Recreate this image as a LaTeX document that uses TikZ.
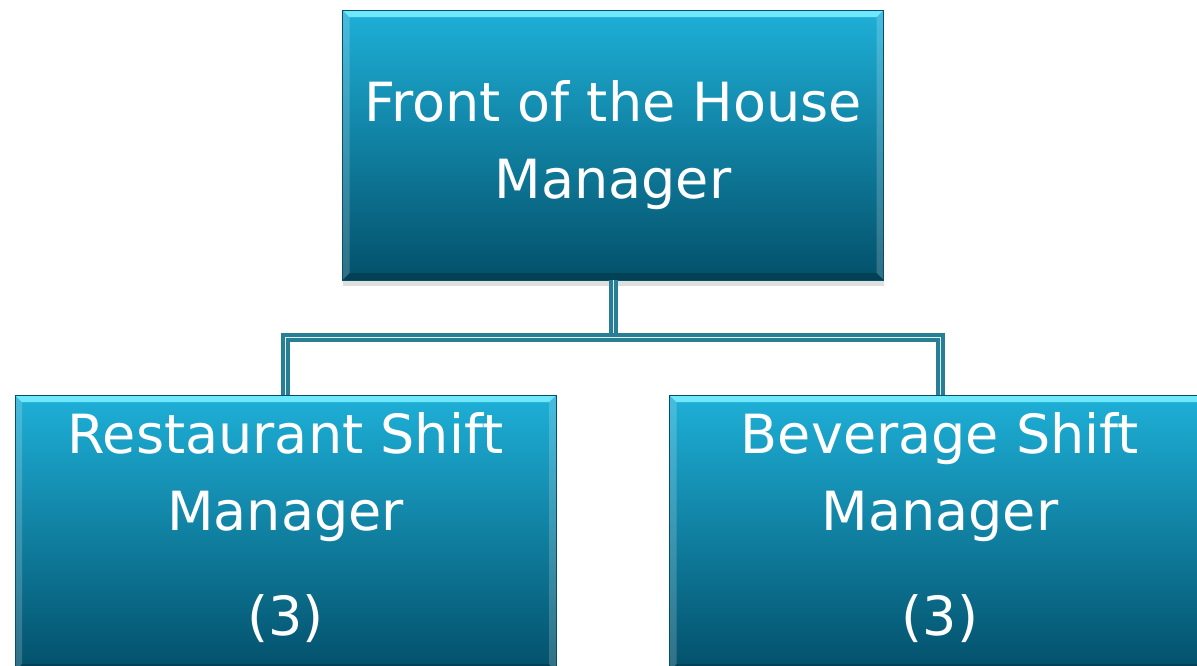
\documentclass[tikz,border=0pt]{standalone}
\usepackage{fontspec}
\setmainfont{DejaVu Sans}
\usetikzlibrary{shadows}
\definecolor{boxtop}{RGB}{30,176,216}
\definecolor{boxbot}{RGB}{3,80,106}
\definecolor{bevlight}{RGB}{112,232,252}
\definecolor{conn}{RGB}{40,126,148}
\definecolor{connlight}{RGB}{215,238,244}
\tikzset{
  orgbox/.style={rectangle, minimum width=541pt, inner sep=0pt,
    top color=boxtop, bottom color=boxbot, draw=boxbot, line width=0.6pt,
    drop shadow={opacity=0.25, shadow xshift=0pt, shadow yshift=-6pt},
    path picture={
      \fill[bevlight] (path picture bounding box.north west) -- (path picture bounding box.north east)
        -- ([xshift=-7pt,yshift=-7pt]path picture bounding box.north east)
        -- ([xshift=7pt,yshift=-7pt]path picture bounding box.north west) -- cycle;
      \fill[white,opacity=0.18] (path picture bounding box.north west)
        -- ([xshift=7pt,yshift=-7pt]path picture bounding box.north west)
        -- ([xshift=7pt,yshift=7pt]path picture bounding box.south west)
        -- (path picture bounding box.south west) -- cycle;
      \fill[white,opacity=0.18] (path picture bounding box.north east)
        -- ([xshift=-7pt,yshift=-7pt]path picture bounding box.north east)
        -- ([xshift=-7pt,yshift=7pt]path picture bounding box.south east)
        -- (path picture bounding box.south east) -- cycle;
      \fill[black,opacity=0.2] (path picture bounding box.south west)
        -- ([xshift=7pt,yshift=7pt]path picture bounding box.south west)
        -- ([xshift=-7pt,yshift=7pt]path picture bounding box.south east)
        -- (path picture bounding box.south east) -- cycle;
    }},
  lbl/.style={text=white, align=center, inner sep=0pt, font=\fontsize{54}{77}\selectfont},
  connector/.style={draw=conn, line width=4pt, double=connlight, double distance=1pt}
}
\begin{document}
\begin{tikzpicture}[x=1pt,y=-1pt]
\useasboundingbox (0,0) rectangle (1197,665);
\clip (0,0) rectangle (1197,665);
\fill[white] (0,0) rectangle (1197,665);
\node[orgbox, minimum height=270pt, lbl] (foh) at (613,145) {Front of the House\\Manager};
\node[orgbox, minimum height=276pt] (rsm) at (285.5,533) {};
\node[orgbox, minimum height=276pt] (bsm) at (940,533) {};
\node[lbl, anchor=north] (rsmt) at ([yshift=-18pt]rsm.north) {Restaurant Shift\\Manager\\[28pt](3)};
\node[lbl, anchor=north] (bsmt) at ([yshift=-18pt]bsm.north) {Beverage Shift\\Manager\\[28pt](3)};
\coordinate (j) at ([yshift=-57pt]foh.south);
\draw[connector] (foh.south) -- (j) -| (rsm.north);
\draw[connector] (j) -| (bsm.north);
\end{tikzpicture}
\end{document}
